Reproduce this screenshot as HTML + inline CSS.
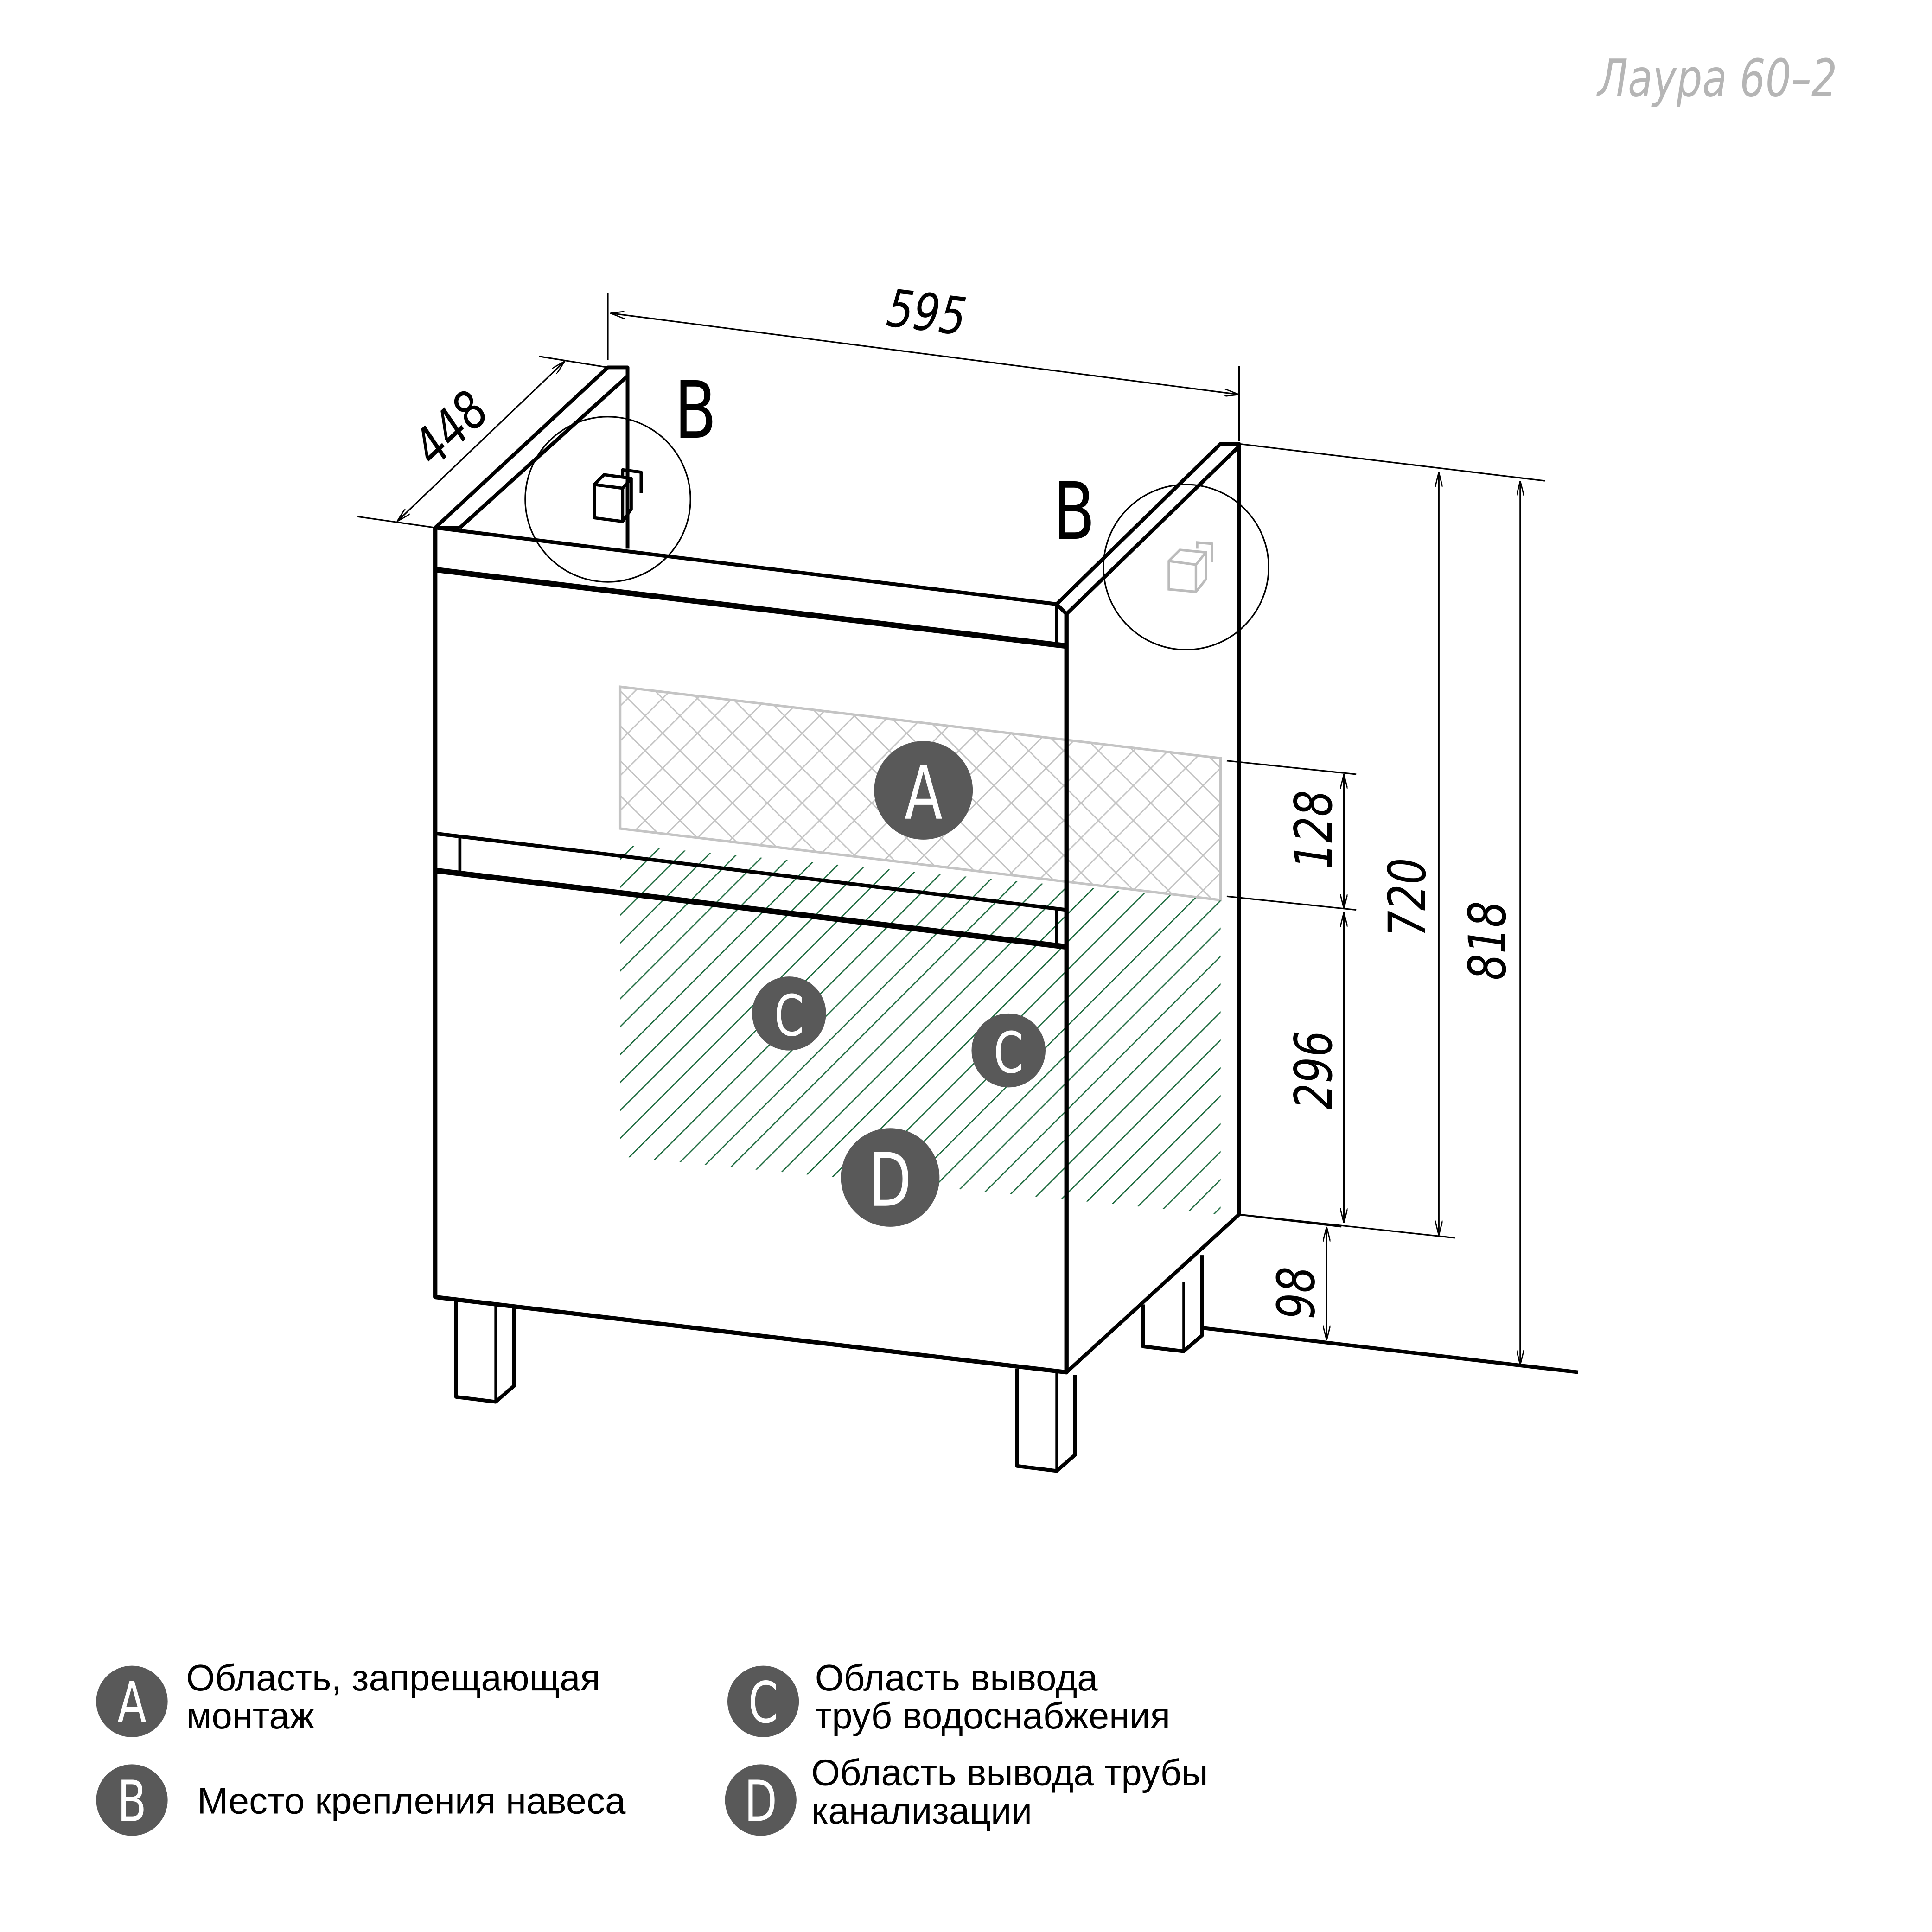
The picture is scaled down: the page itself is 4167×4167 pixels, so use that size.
<!DOCTYPE html>
<html><head><meta charset="utf-8"><style>html,body{margin:0;padding:0;background:#fff}svg{display:block}</style></head>
<body>
<svg width="4167" height="4167" viewBox="0 0 1567 1567" xmlns="http://www.w3.org/2000/svg">
<defs>
<pattern id="cross" width="20" height="20" patternUnits="userSpaceOnUse" patternTransform="rotate(45)">
<path d="M0 0H20M0 0V20" stroke="#c4c4c4" stroke-width="2.2" fill="none"/>
</pattern>
<pattern id="green" width="16" height="16" patternUnits="userSpaceOnUse" patternTransform="rotate(-45)">
<path d="M0 0H16" stroke="#1e6b3f" stroke-width="2" fill="none"/>
</pattern>
<marker id="ar" viewBox="0 0 12 6" refX="12" refY="3" markerWidth="12" markerHeight="6" orient="auto-start-reverse" markerUnits="userSpaceOnUse"><path d="M0 0L12 3L0 6" fill="none" stroke="#000" stroke-width="1"/></marker>
</defs>
<rect width="1567" height="1567" fill="#fff"/>
<text x="1490" y="78" text-anchor="end" font-family="DejaVu Sans" font-style="italic" font-size="42" fill="#b5b5b5" transform="translate(1490 0) scale(0.78 1) translate(-1490 0)">Лаура 60–2</text>

<polygon points="503,557 990,615 990,730 503,672" fill="url(#cross)" stroke="#c4c4c4" stroke-width="2"/>
<polygon points="503,685 990,730 990,985 503,938" fill="url(#green)"/>

<g fill="none" stroke="#000" stroke-linejoin="round">
<path d="M353 428 L493 298 L509 298 L509 445" stroke-width="3"/>
<path d="M373 428 L509 305" stroke-width="3"/>
<path d="M353 428 L857 490" stroke-width="3"/>
<path d="M353 428 L373 428" stroke-width="3"/>
<path d="M857 490 L990 360 L1005 360 L1005 985 L865 1113" stroke-width="3"/>
<path d="M865 498 L1005 362" stroke-width="3"/>
<path d="M857 490 L865 498" stroke-width="3"/>
<path d="M353 428 L353 1052 L865 1113 L865 498" stroke-width="3.5"/>
<path d="M857 490 L857 524" stroke-width="2.5"/>
<path d="M353 462 L865 524" stroke-width="4.5"/>
<path d="M353 676 L865 738" stroke-width="3"/>
<path d="M353 706 L865 768" stroke-width="4.5"/>
<path d="M373 678 L373 708" stroke-width="2.5"/>
<path d="M857 737 L857 767" stroke-width="2.5"/>
<path d="M370 1055 L370 1133 L402 1137 L417 1124 L417 1060" stroke-width="3"/>
<path d="M402 1137 L402 1058" stroke-width="2"/>
<path d="M825 1110 L825 1189 L857 1193 L872 1180 L872 1115" stroke-width="3"/>
<path d="M857 1193 L857 1113" stroke-width="2"/>
<path d="M927 1058 L927 1092 L960 1096 L975 1083 L975 1018" stroke-width="3"/>
<path d="M960 1096 L960 1040" stroke-width="2"/>
<path d="M975 1077 L1280 1113" stroke-width="3"/>
<path d="M482 402 L482 420 L505 423 L512 413 L512 388 L490 385 L482 393 L482 402 M482 393 L505 396 L512 388 M505 396 L505 423 M505 386 L505 381 L520 383 L520 400" stroke-width="2.5"/>
</g>
<path d="M948 458 L948 478 L970 480 L978 470 L978 448 L957 446 L948 455 Z M948 455 L970 458 L978 448 M970 458 L970 480 M971 445 L971 440 L983 441 L983 456" fill="none" stroke="#bbb" stroke-width="2"/>
<circle cx="493" cy="405" r="67" fill="none" stroke="#000" stroke-width="1.2"/>
<circle cx="962" cy="460" r="67" fill="none" stroke="#000" stroke-width="1.2"/>
<g font-family="DejaVu Sans" font-size="64" fill="#000">
<text x="547" y="355" transform="translate(547 0) scale(0.78 1) translate(-547 0)">B</text>
<text x="854" y="437" transform="translate(854 0) scale(0.78 1) translate(-854 0)">B</text>
</g>

<g fill="none" stroke="#000" stroke-width="1.2">
<path d="M493 238 L493 292 M1005 297 L1005 358"/>
<path d="M495 254 L1005 320" marker-start="url(#ar)" marker-end="url(#ar)"/>
<path d="M290 419 L353 428 M437 289 L493 298"/>
<path d="M322 423 L458 293" marker-start="url(#ar)" marker-end="url(#ar)"/>
<path d="M1005 360 L1253 390 M1005 985 L1180 1004 M995 617 L1100 628 M995 727 L1100 738 M1003 985 L1088 995"/>
<path d="M1233 390 L1233 1107" marker-start="url(#ar)" marker-end="url(#ar)"/>
<path d="M1167 383 L1167 1002" marker-start="url(#ar)" marker-end="url(#ar)"/>
<path d="M1090 628 L1090 737" marker-start="url(#ar)" marker-end="url(#ar)"/>
<path d="M1090 740 L1090 992" marker-start="url(#ar)" marker-end="url(#ar)"/>
<path d="M1076 995 L1076 1087" marker-start="url(#ar)" marker-end="url(#ar)"/>
</g>
<g font-family="DejaVu Sans" font-style="italic" font-size="42" fill="#000">
<text transform="translate(718 264) rotate(7) scale(0.8 1)">595</text>
<text transform="translate(352 380) rotate(-43) scale(0.8 1)">448</text>
<text transform="translate(1080 705) rotate(-90) scale(0.8 1)">128</text>
<text transform="translate(1080 900) rotate(-90) scale(0.8 1)">296</text>
<text transform="translate(1156 760) rotate(-90) scale(0.8 1)">720</text>
<text transform="translate(1221 795) rotate(-90) scale(0.8 1)">818</text>
<text transform="translate(1066 1070) rotate(-90) scale(0.8 1)">98</text>
</g>

<g font-family="DejaVu Sans" fill="#fff" text-anchor="middle">
<circle cx="749" cy="641" r="40" fill="#595959"/>
<text x="749" y="664" font-size="60" transform="translate(749 0) scale(0.75 1) translate(-749 0)">A</text>
<circle cx="640" cy="822" r="30" fill="#595959"/>
<text x="640" y="840" font-size="46" transform="translate(640 0) scale(0.75 1) translate(-640 0)">C</text>
<circle cx="818" cy="852" r="30" fill="#595959"/>
<text x="818" y="870" font-size="46" transform="translate(818 0) scale(0.75 1) translate(-818 0)">C</text>
<circle cx="722" cy="955" r="40" fill="#595959"/>
<text x="722" y="978" font-size="60" transform="translate(722 0) scale(0.75 1) translate(-722 0)">D</text>
<circle cx="107" cy="1380" r="29" fill="#595959"/>
<text x="107" y="1397" font-size="46" transform="translate(107 0) scale(0.75 1) translate(-107 0)">A</text>
<circle cx="107" cy="1460" r="29" fill="#595959"/>
<text x="107" y="1477" font-size="46" transform="translate(107 0) scale(0.75 1) translate(-107 0)">B</text>
<circle cx="619" cy="1380" r="29" fill="#595959"/>
<text x="619" y="1397" font-size="46" transform="translate(619 0) scale(0.75 1) translate(-619 0)">C</text>
<circle cx="617" cy="1460" r="29" fill="#595959"/>
<text x="617" y="1477" font-size="46" transform="translate(617 0) scale(0.75 1) translate(-617 0)">D</text>
</g>
<g font-family="Liberation Sans, sans-serif" font-size="30" fill="#000">
<text x="151" y="1371">Область, запрещающая</text>
<text x="151" y="1402">монтаж</text>
<text x="160" y="1471">Место крепления навеса</text>
<text x="661" y="1371">Область вывода</text>
<text x="661" y="1402">труб водоснабжения</text>
<text x="658" y="1448">Область вывода трубы</text>
<text x="658" y="1479">канализации</text>
</g>
</svg>
</body></html>
